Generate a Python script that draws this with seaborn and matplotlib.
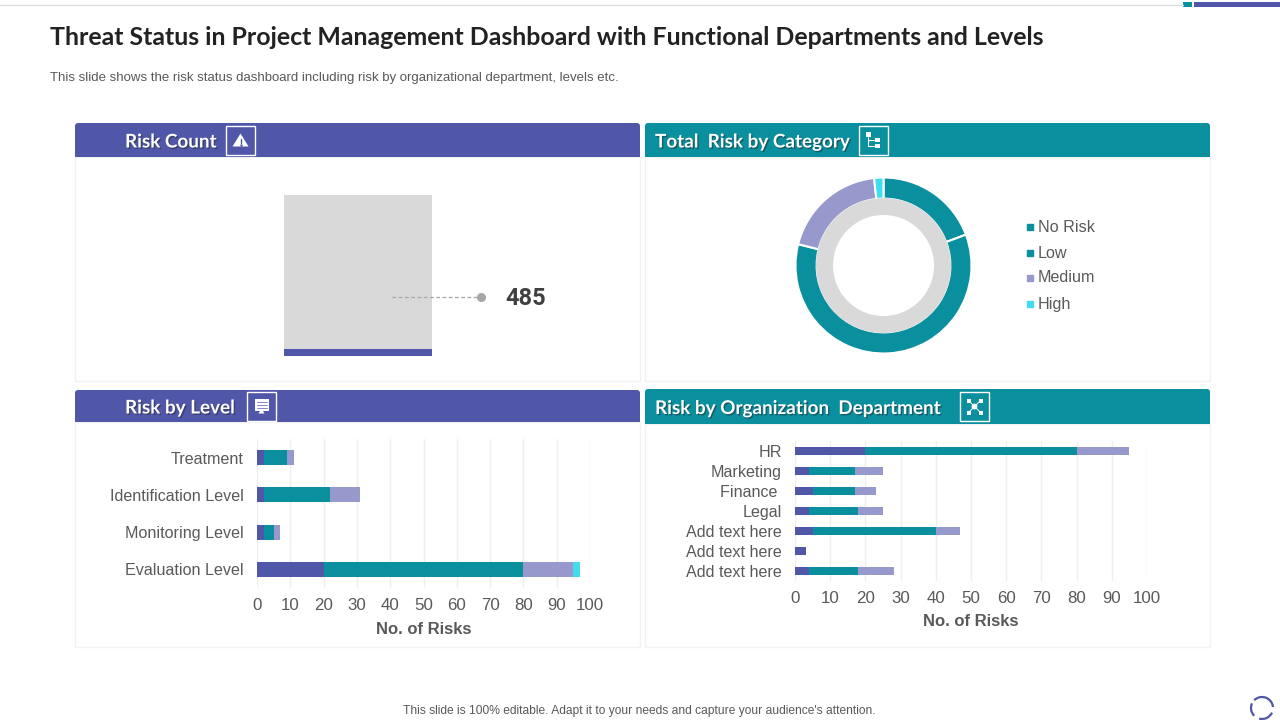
import matplotlib
matplotlib.use("Agg")
import matplotlib.pyplot as plt
import matplotlib.patheffects as pe
from matplotlib.patches import Rectangle, FancyBboxPatch, Polygon, Arc
import numpy as np
import pandas as pd
import seaborn as sns

# ------------------------------
# Data
# ------------------------------
RISK_COUNT = 485
GAUGE_MAX = 11150

CATEGORY_LABELS = ["No Risk", "Low", "Medium", "High"]
CATEGORY_VALUES = [19.3, 59.6, 19.4, 1.7]

LEVELS = ["Treatment", "Identification Level", "Monitoring Level", "Evaluation Level"]
LEVEL_NO_RISK = [2, 2, 2, 20]
LEVEL_LOW = [7, 20, 3, 60]
LEVEL_MEDIUM = [2, 9, 2, 15]
LEVEL_HIGH = [0, 0, 0, 2]

DEPARTMENTS = ["HR", "Marketing", "Finance ", "Legal", "Add text here", "Add text here", "Add text here"]
DEPT_NO_RISK = [20, 4, 5, 4, 5, 3, 4]
DEPT_LOW = [60, 13, 12, 14, 35, 0, 14]
DEPT_MEDIUM = [15, 8, 6, 7, 7, 0, 10]

X_TICKS = list(range(0, 101, 10))

# ------------------------------
# Style
# ------------------------------
PURPLE = "#5057A8"
TEAL = "#0A8F9F"
LAVENDER = "#9799CC"
CYAN = "#3FDDEE"
GRAY = "#D9D9D9"
TEXT = "#595959"

sns.set_theme(style="white")
plt.rcParams["font.family"] = ["Liberation Sans", "DejaVu Sans"]

W, H = 1280, 720
fig = plt.figure(figsize=(12.8, 7.2), dpi=100, facecolor="white")


def axes_px(x0, y0, x1, y1):
    # pixel box, y measured from the top of the image
    return fig.add_axes([x0 / W, 1 - y1 / H, (x1 - x0) / W, (y1 - y0) / H])


bg = fig.add_axes([0, 0, 1, 1])
bg.set_xlim(0, W)
bg.set_ylim(H, 0)
bg.axis("off")


def panel(x0, x1, head_top, head_bot, bottom, color, title, text_x, box_x):
    bg.add_patch(Rectangle((x0, head_bot), x1 - x0, bottom - head_bot, fc="white", ec="#F2F2F2", lw=1))
    bg.add_patch(FancyBboxPatch((x0, head_top), x1 - x0, 10, boxstyle="round,pad=0,rounding_size=3", fc=color, ec="none"))
    bg.add_patch(Rectangle((x0, head_top + 5), x1 - x0, head_bot - head_top - 5, fc=color, ec="none"))
    t = bg.text(text_x, (head_top + head_bot) / 2 + 2, title, color="white", fontsize=13.6, fontweight="bold",
                family="Lato", va="center", ha="left")
    t.set_path_effects([pe.withSimplePatchShadow(offset=(1, -1), shadow_rgbFace="#222222", alpha=0.45)])
    box_y = head_top + 3 if head_bot - head_top > 33 else head_top + 2
    bg.add_patch(Rectangle((box_x, box_y), 29, 29, fc="none", ec="white", lw=1))
    return box_x + 14.5, box_y + 14.5


# ------------------------------
# Title and page furniture
# ------------------------------
bg.plot([0, 1183], [5, 5], color="#DDDDDD", lw=1)
bg.add_patch(Rectangle((1183, 2), 9, 5, fc=TEAL, ec="none"))
bg.add_patch(Rectangle((1194, 2), 86, 5, fc=PURPLE, ec="none"))

bg.text(50, 37.5, "Threat Status in Project Management Dashboard with Functional Departments and Levels",
        fontsize=17.9, fontweight="bold", family="Lato", color="#222222", va="center")
bg.text(50, 77.5, "This slide shows the risk status dashboard including risk by organizational department, levels etc.",
        fontsize=9.5, color=TEXT, va="center")
bg.text(639, 711, "This slide is 100% editable. Adapt it to your needs and capture your audience's attention.",
        fontsize=8.65, color=TEXT, va="center", ha="center")
for a, b in [(25, 105), (135, 205), (225, 355)]:
    bg.add_patch(Arc((1262, 708), 22, 22, theta1=a, theta2=b, color=PURPLE, lw=1.6))

# ------------------------------
# Panels and icons
# ------------------------------
cx, cy = panel(75, 640, 123, 157, 381, PURPLE, "Risk Count", 125, 226)
bg.add_patch(Polygon([(cx, cy - 7), (cx + 8, cy + 6), (cx - 8, cy + 6)], fc="white", ec="none"))
bg.plot([cx, cx], [cy - 2, cy + 2], color=PURPLE, lw=1)
bg.plot([cx], [cy + 4], ".", color=PURPLE, ms=1.5)

cx, cy = panel(645, 1210, 123, 157, 381, TEAL, "Total  Risk by Category", 655, 859)
bg.add_patch(Rectangle((cx - 8, cy - 9), 5, 5, fc="white", ec="none"))
bg.add_patch(Rectangle((cx + 1, cy - 3), 5, 4, fc="white", ec="none"))
bg.add_patch(Rectangle((cx + 1, cy + 3), 5, 4, fc="white", ec="none"))
bg.plot([cx - 5.5, cx - 5.5, cx + 1], [cy - 4, cy + 5, cy + 5], color="white", lw=0.8)
bg.plot([cx - 5.5, cx + 1], [cy - 1, cy - 1], color="white", lw=0.8)

cx, cy = panel(75, 640, 390, 422, 647, PURPLE, "Risk by Level", 125, 247)
bg.add_patch(Rectangle((cx - 7, cy - 8), 14, 12, fc="white", ec="none"))
for dy in (-5, -2, 1):
    bg.plot([cx - 5, cx + 5], [cy + dy, cy + dy], color=PURPLE, lw=0.5)
bg.add_patch(Polygon([(cx, cy + 2), (cx + 3, cy + 7), (cx - 3, cy + 7)], fc="white", ec="none"))

cx, cy = panel(645, 1210, 389, 424, 647, TEAL, "Risk by Organization  Department", 655, 960)
for dx in (-6, 6):
    for dy in (-6, 6):
        bg.add_patch(Rectangle((cx + dx - 2, cy + dy - 2), 4, 4, fc="white", ec="none"))
        bg.plot([cx + dx, cx], [cy + dy, cy], color="white", lw=0.7)
bg.add_patch(plt.Circle((cx, cy), 3.5, fc="white", ec=TEAL, lw=0.8))


# ------------------------------
# Stacked bars
# ------------------------------
def stacked_bars(ax, cats, series, colors, tick_pad, label_pad):
    # cumulative totals drawn longest first, so each shorter one sits on top
    totals = np.cumsum(series, axis=0)
    slots = [str(i) for i in range(len(cats))]
    for total, color in zip(totals[::-1], colors[::-1]):
        df = pd.DataFrame({"slot": slots, "value": total})
        sns.barplot(data=df, x="value", y="slot", color=color, saturation=1, width=0.4,
                    errorbar=None, linewidth=0, edgecolor="none", ax=ax, zorder=3)
    ax.set_xlim(0, 100)
    ax.set_xticks(X_TICKS)
    ax.set_yticks(range(len(cats)))
    ax.set_yticklabels(cats)
    ax.set_ylabel("")
    ax.set_xlabel("No. of Risks", fontsize=12, fontweight="bold", color=TEXT, labelpad=label_pad)
    ax.grid(axis="x", color="#EFEFEF", lw=1)
    ax.grid(axis="y", visible=False)
    ax.set_axisbelow(True)
    ax.tick_params(axis="x", length=0, pad=tick_pad, labelsize=12.2, labelcolor=TEXT)
    ax.tick_params(axis="y", length=0, pad=9.5, labelsize=11.6, labelcolor=TEXT)
    ax.patch.set_alpha(0)
    sns.despine(ax=ax, left=True, bottom=True)


level_ax = axes_px(257, 439, 590, 588)
stacked_bars(level_ax, LEVELS, [LEVEL_NO_RISK, LEVEL_LOW, LEVEL_MEDIUM, LEVEL_HIGH],
             [PURPLE, TEAL, LAVENDER, CYAN], 7.5, 6)

dept_ax = axes_px(795, 441, 1147, 581)
stacked_bars(dept_ax, DEPARTMENTS, [DEPT_NO_RISK, DEPT_LOW, DEPT_MEDIUM],
             [PURPLE, TEAL, LAVENDER], 7.5, 5.5)

# ------------------------------
# Risk count gauge
# ------------------------------
gauge_ax = axes_px(284, 195, 432, 356)
for val, color in [(GAUGE_MAX, GRAY), (RISK_COUNT, PURPLE)]:
    sns.barplot(x=["Risk Count"], y=[val], color=color, saturation=1, width=1,
                linewidth=0, edgecolor="none", ax=gauge_ax)
gauge_ax.set_xlim(-0.5, 0.5)
gauge_ax.set_ylim(0, GAUGE_MAX)
gauge_ax.axis("off")

overlay = fig.add_axes([0, 0, 1, 1], zorder=5)
overlay.set_xlim(0, W)
overlay.set_ylim(H, 0)
overlay.axis("off")
overlay.plot([392, 481], [297, 297], color="#A6A6A6", lw=0.9, ls=(0, (3, 2)))
overlay.plot([481], [297], "o", color="#A6A6A6", ms=5.5)
overlay.text(505.5, 298.5, str(RISK_COUNT), fontsize=17, fontweight="bold", family="Roboto", color="#404040", va="center")

# ------------------------------
# Donut
# ------------------------------
donut_ax = axes_px(795.5, 177.5, 971.5, 353.5)
donut_colors = [TEAL, TEAL, LAVENDER, CYAN]
donut_ax.pie(CATEGORY_VALUES, colors=donut_colors, startangle=90, counterclock=False, radius=1,
             wedgeprops=dict(width=0.24, edgecolor="white", linewidth=1.5))
donut_ax.pie([1], colors=[GRAY], radius=67.5 / 88, wedgeprops=dict(width=17 / 88, edgecolor="none"))
donut_ax.set_xlim(-1, 1)
donut_ax.set_ylim(-1, 1)

for label, color, y in zip(CATEGORY_LABELS, donut_colors, [226, 252, 277, 303]):
    overlay.plot([1030], [y + 1], "s", color=color, ms=4.5)
    overlay.text(1038, y + 1, label, fontsize=11.6, color=TEXT, va="center")

fig.savefig("out.png", dpi=100)
